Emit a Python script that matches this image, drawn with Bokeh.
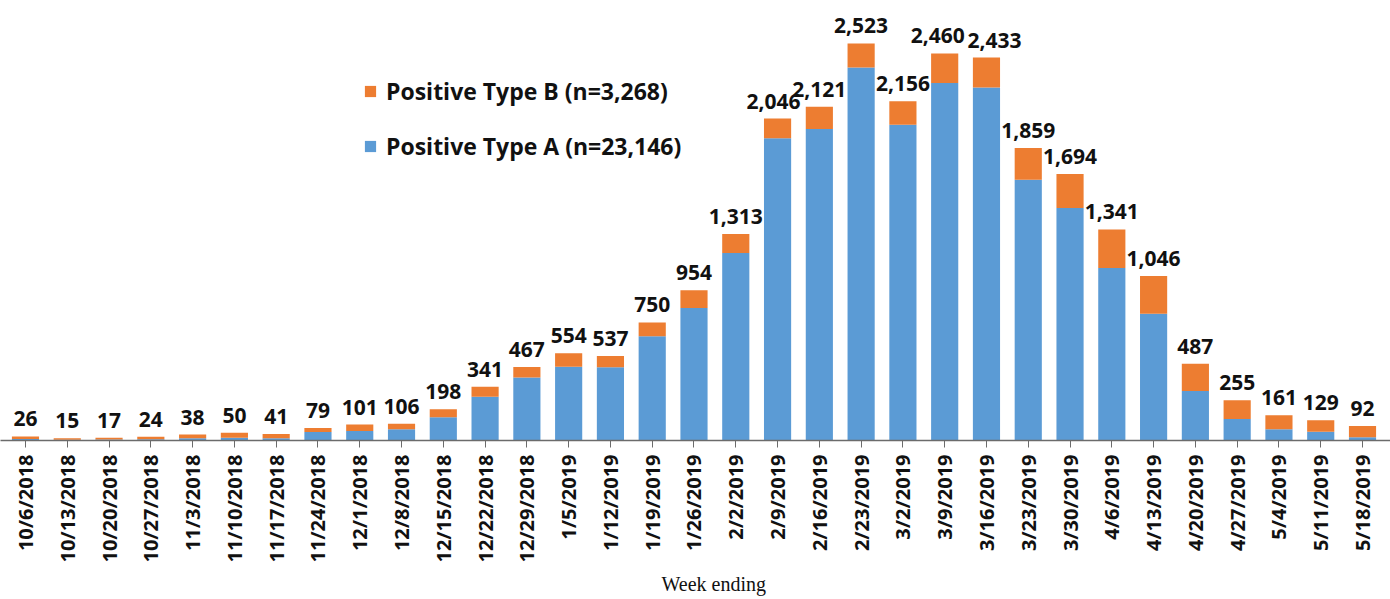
import math
from bokeh.plotting import figure
from bokeh.models import ColumnDataSource, Range1d, FixedTicker, Legend, LegendItem, LabelSet, Title
from bokeh.embed import file_html
from bokeh.resources import INLINE
from bokeh.core.properties import value

weeks = ["10/6/2018", "10/13/2018", "10/20/2018", "10/27/2018", "11/3/2018", "11/10/2018",
         "11/17/2018", "11/24/2018", "12/1/2018", "12/8/2018", "12/15/2018", "12/22/2018",
         "12/29/2018", "1/5/2019", "1/12/2019", "1/19/2019", "1/26/2019", "2/2/2019",
         "2/9/2019", "2/16/2019", "2/23/2019", "3/2/2019", "3/9/2019", "3/16/2019",
         "3/23/2019", "3/30/2019", "4/6/2019", "4/13/2019", "4/20/2019", "4/27/2019",
         "5/4/2019", "5/11/2019", "5/18/2019"]
type_a = [10, 5, 7, 8, 15, 18, 14, 54, 60, 72, 147, 278, 401, 469, 465, 662, 842, 1192,
          1920, 1980, 2371, 2006, 2272, 2243, 1657, 1478, 1096, 806, 314, 136, 71, 56, 21]
type_b = [16, 10, 10, 16, 23, 32, 27, 25, 41, 34, 51, 63, 66, 85, 72, 88, 112, 121,
          126, 141, 152, 150, 188, 190, 202, 216, 245, 240, 173, 119, 90, 73, 71]

BLUE = "#5B9BD5"
ORANGE = "#ED7D31"
FONT = "Open Sans"

# small pixel nudges for labels that would otherwise collide (as in the original)
label_nudge = {18: -4, 22: -7, 23: 8}

x = list(range(len(weeks)))
totals = [a + b for a, b in zip(type_a, type_b)]
src = ColumnDataSource(dict(
    x=x, a=type_a, b=type_b, total=totals,
    label=[f"{t:,}" for t in totals],
    dx=[label_nudge.get(i, 0) for i in x],
))

p = figure(width=1390, height=599, output_backend="svg", toolbar_location=None,
           x_range=Range1d(-0.598, 32.67), y_range=Range1d(0, 2796),
           min_border_left=0, min_border_right=0, min_border_top=0, min_border_bottom=159)
p.outline_line_color = None
p.xgrid.grid_line_color = None
p.ygrid.grid_line_color = None
p.yaxis.visible = False
p.background_fill_color = "white"
p.border_fill_color = "white"

rs = p.vbar_stack(["a", "b"], x="x", width=0.65, color=[BLUE, ORANGE],
                  line_color=None, source=src)

labels = LabelSet(x="x", y="total", text="label", source=src, text_align="center",
                  text_baseline="bottom", y_offset=10, x_offset="dx", text_font=value(FONT),
                  text_font_style="bold", text_font_size="21px", text_color="#111111")
p.add_layout(labels)

p.xaxis.ticker = FixedTicker(ticks=x)
p.xaxis.major_label_overrides = {i: w for i, w in enumerate(weeks)}
p.xaxis.major_label_orientation = math.pi / 2
p.xaxis.major_label_text_font = FONT
p.xaxis.major_label_text_font_style = "bold"
p.xaxis.major_label_text_font_size = "20px"
p.xaxis.major_label_text_color = "#111111"
p.xaxis.major_label_standoff = 7
p.xaxis.major_tick_in = 0
p.xaxis.major_tick_out = 7
p.xaxis.minor_tick_line_color = None
p.xaxis.axis_line_color = "#6b6b6b"
p.xaxis.axis_line_width = 1.5
p.xaxis.major_tick_line_color = "#6b6b6b"

xtitle = Title(text="Week ending", align="left", offset=661, standoff=10,
               text_font="Liberation Serif", text_font_style="normal",
               text_font_size="20px", text_color="#111111")
p.add_layout(xtitle, "below")

n_a = sum(type_a)
n_b = sum(type_b)
legend = Legend(items=[
    LegendItem(label=f"Positive Type B (n={n_b:,})", renderers=[rs[1]]),
    LegendItem(label=f"Positive Type A (n={n_a:,})", renderers=[rs[0]]),
], location=(363, 278))
legend.label_text_font = FONT
legend.label_text_font_style = "bold"
legend.label_text_font_size = "23px"
legend.label_text_color = "#111111"
legend.glyph_width = 14
legend.glyph_height = 14
legend.spacing = 23
legend.padding = 0
legend.margin = 0
legend.label_standoff = 9
legend.border_line_color = None
legend.background_fill_alpha = 0
p.add_layout(legend)

open("out.html", "w").write(file_html(p, INLINE))
